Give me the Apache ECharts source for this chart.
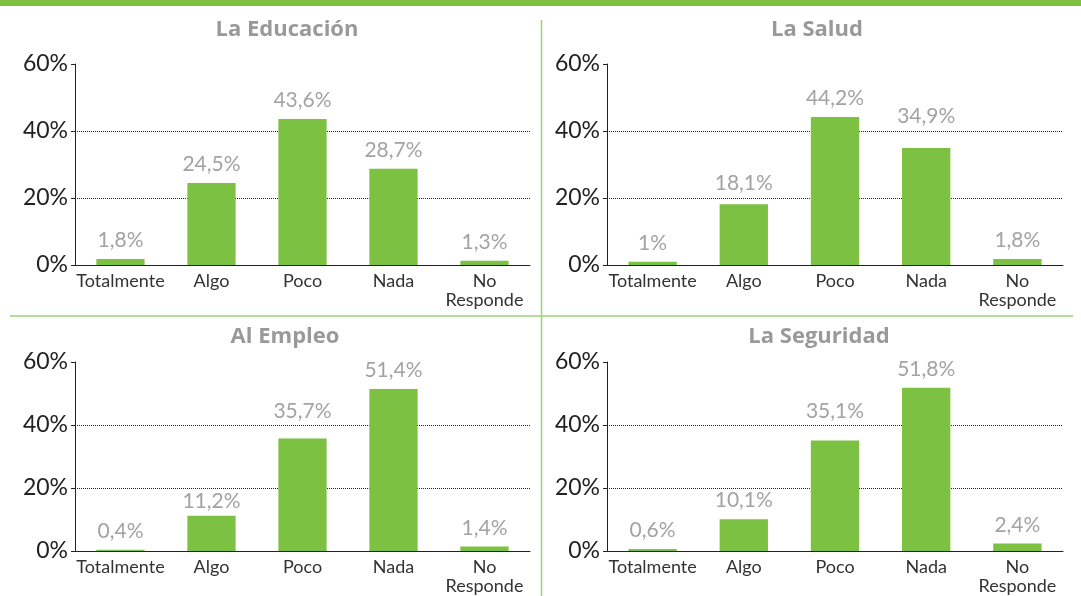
<!DOCTYPE html>
<html>
<head>
<meta charset="utf-8">
<script src="https://cdn.jsdelivr.net/npm/echarts@6/dist/echarts.min.js"></script>
<style>
  html, body { margin: 0; padding: 0; background: #fff; }
  #chart { width: 1081px; height: 596px; }
</style>
</head>
<body>
<div id="chart"></div>
<script>
// datos de las cuatro encuestas
var categorias = ['Totalmente', 'Algo', 'Poco', 'Nada', 'No\nResponde']
var titulos = ['La Educación', 'La Salud', 'Al Empleo', 'La Seguridad']
var educacion = [1.8, 24.5, 43.6, 28.7, 1.3]
var salud = [1, 18.1, 44.2, 34.9, 1.8]
var empleo = [0.4, 11.2, 35.7, 51.4, 1.4]
var seguridad = [0.6, 10.1, 35.1, 51.8, 2.4]
var yTicks = [0, 20, 40, 60]

var verde = '#7cc142'
var series = [educacion, salud, empleo, seguridad]
var grids = [
    { left: 75, top: 64, width: 455, height: 201 },
    { left: 607, top: 64, width: 456, height: 201 },
    { left: 75, top: 362, width: 455, height: 190 },
    { left: 607, top: 362, width: 456, height: 190 }
]
var titlePos = [[282, 14], [812, 14], [280, 321], [814, 321]]
var font = 'Lato, "Open Sans", sans-serif'
var yMax = yTicks[yTicks.length - 1]

var chart = echarts.init(document.getElementById('chart'))

// si la etiqueta cruza una línea de la grilla, moverla debajo (si cabe) o encima
function moveLabel(i) {
    var g = grids[i]
    return function (p) {
        var r = p.labelRect
        var barTop = p.rect.y
        for (var k = 1; k < yTicks.length - 1; k++) {
            var gy = g.top + g.height * (1 - yTicks[k] / yMax)
            if (gy > r.y && gy < r.y + r.height + 2) {
                var down = (gy + 2) - r.y
                if (r.y + r.height + down <= barTop - 3) {
                    return { dy: down }
                }
                return { dy: (gy - 4) - (r.y + r.height) }
            }
        }
        return {}
    }
}

var option = {
    animation: false,
    backgroundColor: '#fff',
    title: titulos.map(function (t, i) {
        return {
            text: t,
            left: titlePos[i][0],
            top: titlePos[i][1],
            textAlign: 'center',
            textStyle: { color: '#999999', fontSize: 22, fontWeight: 'bold', fontFamily: '"Open Sans", sans-serif' }
        }
    }),
    grid: grids,
    xAxis: grids.map(function (g, i) {
        return {
            type: 'category',
            gridIndex: i,
            data: categorias,
            axisLine: { lineStyle: { color: '#222', width: 1 } },
            axisTick: { length: 4, lineStyle: { color: '#222' } },
            axisLabel: { interval: 0, color: '#333', fontSize: 18, lineHeight: 19, margin: 7, fontFamily: font }
        }
    }),
    yAxis: grids.map(function (g, i) {
        return {
            type: 'value',
            gridIndex: i,
            min: yTicks[0],
            max: yMax,
            interval: 20,
            axisLine: { show: true, lineStyle: { color: '#222', width: 1 } },
            axisTick: { show: true, length: 4, lineStyle: { color: '#222' } },
            axisLabel: { formatter: '{value}%', color: '#222', fontSize: 23, margin: 7, fontFamily: font },
            splitLine: {
                show: true,
                showMinLine: false,
                showMaxLine: false,
                lineStyle: { color: '#222', type: [1, 1], width: 1 }
            }
        }
    }),
    series: series.map(function (d, i) {
        return {
            type: 'bar',
            xAxisIndex: i,
            yAxisIndex: i,
            data: d,
            barWidth: '53%',
            itemStyle: { color: verde },
            labelLayout: moveLabel(i),
            label: {
                show: true,
                position: 'top',
                distance: 8,
                color: '#a3a3a3',
                fontSize: 21,
                fontFamily: font,
                formatter: function (p) {
                    return String(p.value).replace('.', ',') + '%'
                }
            }
        }
    }),
    graphic: [
        { type: 'rect', shape: { x: 0, y: 0, width: 1081, height: 6 }, style: { fill: verde } },
        { type: 'line', shape: { x1: 541.5, y1: 20, x2: 541.5, y2: 596 }, style: { stroke: '#9dd274', lineWidth: 1.5 } },
        { type: 'line', shape: { x1: 10, y1: 316, x2: 1073, y2: 316 }, style: { stroke: '#9dd274', lineWidth: 1.5 } }
    ]
}

chart.setOption(option)
</script>
</body>
</html>
